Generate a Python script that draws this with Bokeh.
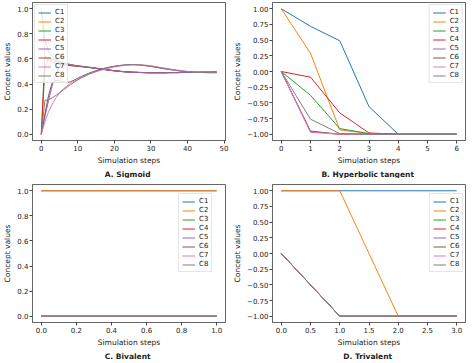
from bokeh.plotting import figure
from bokeh.layouts import column, row
from bokeh.models import FixedTicker, Range1d
from bokeh.embed import file_html
from bokeh.resources import INLINE

# ---------------- data ----------------
concepts = ["C1", "C2", "C3", "C4", "C5", "C6", "C7", "C8"]

# A. Sigmoid (steps 0..48)
sig_steps = list(range(49))
sig_C1 = [1.0, 0.75, 0.66, 0.62, 0.60, 0.585, 0.572, 0.563, 0.556, 0.550,
          0.546, 0.542, 0.538, 0.535, 0.531, 0.527, 0.523, 0.519, 0.515, 0.511,
          0.507, 0.504, 0.501, 0.499, 0.497, 0.495, 0.494, 0.493, 0.492, 0.491,
          0.491, 0.491, 0.491, 0.491, 0.491, 0.492, 0.492, 0.492, 0.493, 0.493,
          0.494, 0.494, 0.494, 0.495, 0.495, 0.495, 0.495, 0.496, 0.496]
sig_C2 = [1.0, 0.62, 0.60, 0.59, 0.58, 0.572, 0.565, 0.559, 0.554, 0.549,
          0.545, 0.541, 0.537, 0.534, 0.530, 0.526, 0.522, 0.518, 0.514, 0.510,
          0.506, 0.503, 0.500, 0.498, 0.496, 0.494, 0.493, 0.492, 0.491, 0.490,
          0.490, 0.490, 0.490, 0.490, 0.490, 0.491, 0.491, 0.491, 0.492, 0.492,
          0.493, 0.493, 0.493, 0.494, 0.494, 0.494, 0.494, 0.495, 0.495]
sig_C3 = [0.0, 0.52, 0.61, 0.60, 0.585, 0.573, 0.564, 0.557, 0.551, 0.547,
          0.543, 0.539, 0.536, 0.532, 0.528, 0.524, 0.520, 0.516, 0.512, 0.508,
          0.505, 0.502, 0.499, 0.497, 0.495, 0.494, 0.493, 0.492, 0.491, 0.490,
          0.490, 0.490, 0.490, 0.490, 0.490, 0.490, 0.491, 0.491, 0.491, 0.492,
          0.492, 0.493, 0.493, 0.493, 0.494, 0.494, 0.494, 0.494, 0.495]
sig_C4 = [0.0, 0.62, 0.59, 0.575, 0.565, 0.558, 0.553, 0.549, 0.546, 0.543,
          0.541, 0.538, 0.535, 0.532, 0.529, 0.525, 0.521, 0.517, 0.513, 0.509,
          0.506, 0.503, 0.500, 0.498, 0.496, 0.494, 0.493, 0.492, 0.491, 0.491,
          0.490, 0.490, 0.490, 0.490, 0.490, 0.491, 0.491, 0.491, 0.492, 0.492,
          0.492, 0.493, 0.493, 0.493, 0.494, 0.494, 0.494, 0.494, 0.494]
sig_C5 = [0.0, 0.14, 0.27, 0.39, 0.48, 0.54, 0.56, 0.558, 0.553, 0.548,
          0.544, 0.540, 0.537, 0.533, 0.529, 0.525, 0.521, 0.517, 0.513, 0.509,
          0.505, 0.502, 0.500, 0.497, 0.495, 0.494, 0.493, 0.492, 0.491, 0.490,
          0.490, 0.490, 0.490, 0.490, 0.490, 0.491, 0.491, 0.491, 0.492, 0.492,
          0.492, 0.493, 0.493, 0.493, 0.494, 0.494, 0.494, 0.494, 0.494]
sig_C6 = [0.0, 0.16, 0.31, 0.41, 0.43, 0.425, 0.418, 0.412, 0.418, 0.432,
          0.447, 0.461, 0.474, 0.486, 0.497, 0.507, 0.516, 0.524, 0.531, 0.537,
          0.542, 0.546, 0.549, 0.552, 0.553, 0.554, 0.553, 0.551, 0.548, 0.544,
          0.540, 0.535, 0.530, 0.525, 0.520, 0.516, 0.512, 0.508, 0.504, 0.501,
          0.498, 0.496, 0.494, 0.493, 0.492, 0.491, 0.491, 0.491, 0.491]
sig_C7 = [0.0, 0.10, 0.18, 0.24, 0.29, 0.33, 0.36, 0.385, 0.405, 0.423,
          0.438, 0.452, 0.465, 0.477, 0.488, 0.498, 0.507, 0.515, 0.523, 0.530,
          0.536, 0.541, 0.545, 0.549, 0.552, 0.554, 0.555, 0.554, 0.552, 0.549,
          0.545, 0.541, 0.536, 0.531, 0.526, 0.521, 0.516, 0.512, 0.508, 0.504,
          0.501, 0.498, 0.496, 0.494, 0.493, 0.492, 0.491, 0.491, 0.491]
sig_C8 = [0.0, 0.27, 0.275, 0.29, 0.31, 0.33, 0.352, 0.374, 0.395, 0.415,
          0.433, 0.450, 0.465, 0.479, 0.491, 0.502, 0.512, 0.521, 0.529, 0.536,
          0.541, 0.546, 0.550, 0.553, 0.555, 0.555, 0.554, 0.552, 0.549, 0.546,
          0.542, 0.537, 0.532, 0.527, 0.522, 0.517, 0.513, 0.509, 0.505, 0.502,
          0.499, 0.497, 0.495, 0.493, 0.492, 0.492, 0.491, 0.491, 0.491]

# B. Hyperbolic tangent (steps 0..6)
tanh_steps = [0, 1, 2, 3, 4, 5, 6]
tanh_C1 = [1.0, 0.72, 0.49, -0.56, -1.0, -1.0, -1.0]
tanh_C2 = [1.0, 0.29, -0.93, -0.99, -1.0, -1.0, -1.0]
tanh_C3 = [0.0, -0.38, -0.91, -0.99, -1.0, -1.0, -1.0]
tanh_C4 = [0.0, -0.09, -0.66, -0.98, -1.0, -1.0, -1.0]
tanh_C5 = [0.0, -0.96, -1.0, -1.0, -1.0, -1.0, -1.0]
tanh_C6 = [0.0, -0.95, -1.0, -1.0, -1.0, -1.0, -1.0]
tanh_C7 = [0.0, -0.97, -1.0, -1.0, -1.0, -1.0, -1.0]
tanh_C8 = [0.0, -0.76, -0.99, -1.0, -1.0, -1.0, -1.0]

# C. Bivalent (steps 0..1)
biv_steps = [0, 1]
biv_C1 = [1, 1]
biv_C2 = [1, 1]
biv_C3 = [0, 0]
biv_C4 = [0, 0]
biv_C5 = [0, 0]
biv_C6 = [0, 0]
biv_C7 = [0, 0]
biv_C8 = [0, 0]

# D. Trivalent (steps 0..3)
tri_steps = [0, 1, 2, 3]
tri_C1 = [1, 1, 1, 1]
tri_C2 = [1, 1, -1, -1]
tri_C3 = [0, -1, -1, -1]
tri_C4 = [0, -1, -1, -1]
tri_C5 = [0, -1, -1, -1]
tri_C6 = [0, -1, -1, -1]
tri_C7 = [0, -1, -1, -1]
tri_C8 = [0, -1, -1, -1]

# tick labels
A_xticks = [0, 10, 20, 30, 40, 50]
A_xlabels = ["0", "10", "20", "30", "40", "50"]
A_yticks = [0.0, 0.2, 0.4, 0.6, 0.8, 1.0]
A_ylabels = ["0.0", "0.2", "0.4", "0.6", "0.8", "1.0"]
B_xticks = [0, 1, 2, 3, 4, 5, 6]
B_xlabels = ["0", "1", "2", "3", "4", "5", "6"]
pm_ticks = [-1.0, -0.75, -0.5, -0.25, 0.0, 0.25, 0.5, 0.75, 1.0]
pm_labels = ["\u22121.00", "\u22120.75", "\u22120.50", "\u22120.25", "0.00",
             "0.25", "0.50", "0.75", "1.00"]
C_xticks = [0.0, 0.2, 0.4, 0.6, 0.8, 1.0]
C_xlabels = ["0.0", "0.2", "0.4", "0.6", "0.8", "1.0"]
D_xticks = [0.0, 0.5, 1.0, 1.5, 2.0, 2.5, 3.0]
D_xlabels = ["0.0", "0.5", "1.0", "1.5", "2.0", "2.5", "3.0"]

# ---------------- style ----------------
COLORS = ["#1f77b4", "#ff7f0e", "#2ca02c", "#d62728",
          "#9467bd", "#8c564b", "#e377c2", "#7f7f7f"]
FONT = "DejaVu Sans"
FW, FH = 193, 138
LEG_W, LEG_H = 34, 78


def panel(title, xs, ys_list, xr, yr, xt, xl, yt, yl, loc, btop):
    p = figure(frame_width=FW, frame_height=FH, output_backend="svg",
               toolbar_location=None,
               x_range=Range1d(*xr), y_range=Range1d(*yr),
               title=title, title_location="below",
               min_border_top=btop, min_border_left=4, min_border_right=5,
               min_border_bottom=0)
    for name, ys, c in zip(concepts, ys_list, COLORS):
        p.line(xs, ys, line_color=c, line_width=1, legend_label=name)
    p.title.align = "center"
    p.title.text_font = FONT
    p.title.text_font_style = "bold"
    p.title.text_font_size = "7.5px"
    p.title.text_color = "#222222"
    p.title.standoff = 0
    p.title.offset = 0
    p.grid.visible = False
    p.outline_line_color = "#666666"
    p.outline_line_width = 1
    p.xaxis.ticker = FixedTicker(ticks=xt)
    p.yaxis.ticker = FixedTicker(ticks=yt)
    p.xaxis.major_label_overrides = {t: s for t, s in zip(xt, xl)}
    p.yaxis.major_label_overrides = {t: s for t, s in zip(yt, yl)}
    p.xaxis.axis_label = "Simulation steps"
    p.yaxis.axis_label = "Concept values"
    for ax in (p.xaxis, p.yaxis):
        ax.axis_line_color = "#666666"
        ax.major_tick_line_color = "#444444"
        ax.major_tick_out = 3
        ax.major_tick_in = 0
        ax.minor_tick_line_color = None
        ax.major_label_text_font = FONT
        ax.major_label_text_font_size = "7px"
        ax.major_label_text_color = "#222222"
        ax.axis_label_text_font = FONT
        ax.axis_label_text_font_size = "7.5px"
        ax.axis_label_text_font_style = "normal"
        ax.axis_label_text_color = "#222222"
        ax.axis_label_standoff = 2
        ax.major_label_standoff = 1
    lg = p.legend[0]
    lg.location = loc
    lg.label_text_font = FONT
    lg.label_text_font_size = "7px"
    lg.label_text_color = "#222222"
    lg.glyph_width = 13
    lg.glyph_height = 7
    lg.label_height = 7
    lg.label_width = 8
    lg.label_standoff = 4
    lg.spacing = 1
    lg.padding = 3
    lg.margin = 2
    lg.border_line_color = "#cccccc"
    lg.border_line_width = 1
    lg.background_fill_alpha = 0.8
    return p


pA = panel("A.  Sigmoid", sig_steps,
           [sig_C1, sig_C2, sig_C3, sig_C4, sig_C5, sig_C6, sig_C7, sig_C8],
           (-2.4, 50.4), (-0.05, 1.05), A_xticks, A_xlabels, A_yticks, A_ylabels,
           "top_left", 2)
pB = panel("B.  Hyperbolic tangent", tanh_steps,
           [tanh_C1, tanh_C2, tanh_C3, tanh_C4, tanh_C5, tanh_C6, tanh_C7, tanh_C8],
           (-0.3, 6.3), (-1.1, 1.1), B_xticks, B_xlabels, pm_ticks, pm_labels,
           "top_right", 2)
pC = panel("C.  Bivalent", biv_steps,
           [biv_C1, biv_C2, biv_C3, biv_C4, biv_C5, biv_C6, biv_C7, biv_C8],
           (-0.05, 1.05), (-0.05, 1.05), C_xticks, C_xlabels, A_yticks, A_ylabels,
           (FW - 13 - LEG_W, FH - 10 - LEG_H), 6)
pD = panel("D.  Trivalent", tri_steps,
           [tri_C1, tri_C2, tri_C3, tri_C4, tri_C5, tri_C6, tri_C7, tri_C8],
           (-0.15, 3.15), (-1.1, 1.1), D_xticks, D_xlabels, pm_ticks, pm_labels,
           (FW - 2 - LEG_W, FH - 10 - LEG_H), 6)

layout = column(row(pA, pB), row(pC, pD))
open("out.html", "w").write(file_html(layout, INLINE))
